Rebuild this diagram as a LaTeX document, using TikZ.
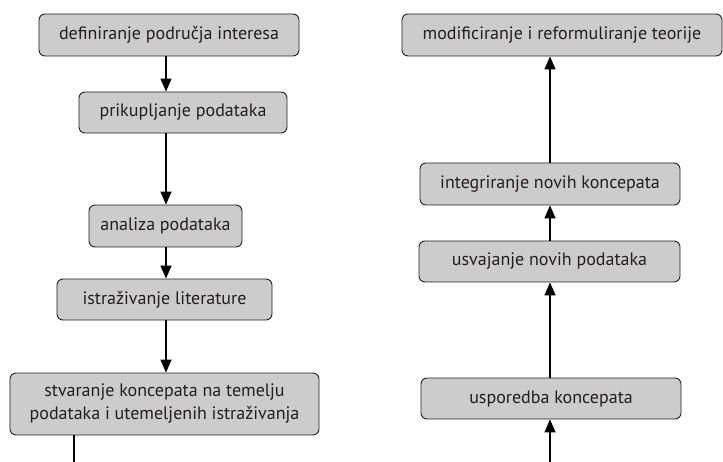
\documentclass[tikz,border=0pt]{standalone}
\usepackage{fontspec}
\setmainfont{PT Sans}
\usetikzlibrary{arrows.meta}
\definecolor{boxgray}{HTML}{CCCCCC}
\definecolor{inkdark}{HTML}{231F20}

\begin{document}
\begin{tikzpicture}[
    x=1bp, y=-1bp,
    >={Triangle[length=13bp, width=11bp]},
    every node/.style={text=inkdark, font=\fontsize{18bp}{23bp}\selectfont},
    stagebox/.style={draw=inkdark, fill=boxgray, line width=0.9bp,
      rounded corners=6bp, inner sep=0pt, align=center},
    flow/.style={->, line width=1.4bp, draw=black},
  ]

  \useasboundingbox (0,0) rectangle (723,462);

  % Left column
  \node[stagebox, minimum width=260bp, minimum height=42bp] (define) at (169,35)
    {definiranje područja interesa};
  \node[stagebox, minimum width=208bp, minimum height=41bp] (collect) at (183,112.5)
    {prikupljanje podataka};
  \node[stagebox, minimum width=153bp, minimum height=42bp] (analyse) at (165.5,226)
    {analiza podataka};
  \node[stagebox, minimum width=215bp, minimum height=41bp] (literature) at (164.5,299.5)
    {istraživanje literature};
  \node[stagebox, minimum width=309bp, minimum height=62bp] (concepts) at (164.5,404)
    {stvaranje koncepata na temelju\\podataka i utemeljenih istraživanja};

  % Right column
  \node[stagebox, minimum width=320bp, minimum height=42bp] (theory) at (562,35)
    {modificiranje i reformuliranje teorije};
  \node[stagebox, minimum width=260bp, minimum height=42bp] (integrate) at (550,184)
    {integriranje novih koncepata};
  \node[stagebox, minimum width=261bp, minimum height=41bp] (adopt) at (549.5,261.5)
    {usvajanje novih podataka};
  \node[stagebox, minimum width=260bp, minimum height=41bp] (compare) at (551,398.5)
    {usporedba koncepata};

  % Column lines and loose ends
  \coordinate (leftaxis) at (166,0);
  \coordinate (rightaxis) at (550,0);
  \coordinate (leftout) at (74,466);
  \coordinate (rightin) at (550,466);

  % Edges
  \draw[flow] (define.south -| leftaxis) -- (collect.north -| leftaxis);
  \draw[flow] (collect.south -| leftaxis) -- (analyse.north -| leftaxis);
  \draw[flow] (analyse.south -| leftaxis) -- (literature.north -| leftaxis);
  \draw[flow] (literature.south -| leftaxis) -- (concepts.north -| leftaxis);
  \draw[line width=1.4bp] (concepts.south -| leftout) -- (leftout);

  \draw[flow] (rightin) -- (compare.south -| rightaxis);
  \draw[flow] (compare.north -| rightaxis) -- (adopt.south -| rightaxis);
  \draw[flow] (adopt.north -| rightaxis) -- (integrate.south -| rightaxis);
  \draw[flow] (integrate.north -| rightaxis) -- (theory.south -| rightaxis);

\end{tikzpicture}
\end{document}
